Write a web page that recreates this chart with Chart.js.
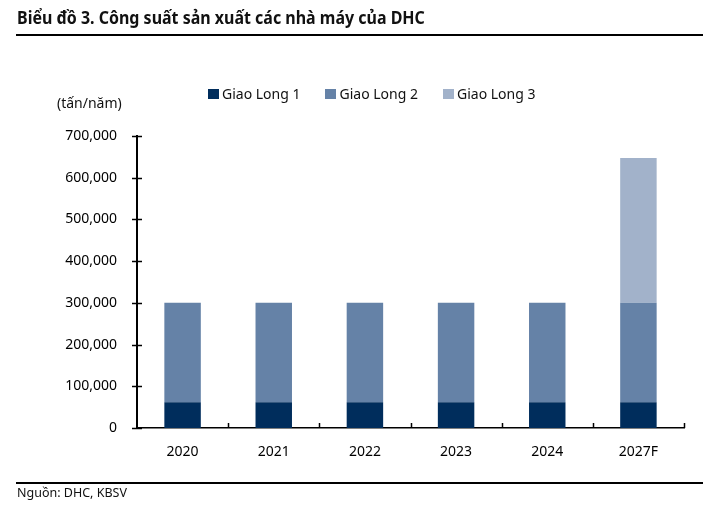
<!DOCTYPE html>
<html>
<head>
<meta charset="utf-8">
<script src="https://cdn.jsdelivr.net/npm/chart.js@4.4.1/dist/chart.umd.min.js"></script>
<style>
  body { margin: 0; background: #fff; font-family: "Noto Sans", sans-serif; }
  #wrap { position: relative; width: 725px; height: 514px; overflow: hidden; }
  #chart { position: absolute; left: 0; top: 0; }
  .title { position: absolute; left: 17px; top: 6px; font-size: 17px; font-weight: bold; color: #111; white-space: nowrap; transform-origin: 0 0; }
  .rule { position: absolute; left: 16px; width: 687px; height: 2px; background: #000; }
  .source { position: absolute; left: 17px; top: 484px; font-size: 12.5px; color: #111; white-space: nowrap; }
  .unit { position: absolute; left: 57px; top: 93px; font-size: 14px; color: #111; }
  #legend { position: absolute; left: 208px; top: 84px; display: flex; font-size: 14px; color: #111; }
  #legend .item { display: flex; align-items: center; margin-right: 25px; }
  #legend .box { width: 11px; height: 10px; margin-right: 3px; }
</style>
</head>
<body>
<div id="wrap">
  <canvas id="chart" width="725" height="514"></canvas>
  <div class="title" id="title">Biểu đồ 3. Công suất sản xuất các nhà máy của DHC</div>
  <div class="rule" style="top:34px"></div>
  <div class="unit">(tấn/năm)</div>
  <div id="legend"></div>
  <div class="rule" style="top:482px"></div>
  <div class="source">Nguồn: DHC, KBSV</div>
</div>
<script>
const years = ["2020", "2021", "2022", "2023", "2024", "2027F"];
const giaoLong1 = [62000, 62000, 62000, 62000, 62000, 62000];
const giaoLong2 = [238000, 238000, 238000, 238000, 238000, 238000];
const giaoLong3 = [0, 0, 0, 0, 0, 347000];
const yTicks = [0, 100000, 200000, 300000, 400000, 500000, 600000, 700000];

const seriesNames = ["Giao Long 1", "Giao Long 2", "Giao Long 3"];
const seriesColors = ["#002d5c", "#6582a7", "#a2b2ca"];

// squeeze title to the reference width
const t = document.getElementById("title");
t.style.transform = "scaleX(" + (408 / t.offsetWidth) + ")";

const legend = document.getElementById("legend");
seriesNames.forEach((name, i) => {
  const item = document.createElement("div");
  item.className = "item";
  item.innerHTML = '<span class="box" style="background:' + seriesColors[i] + '"></span>' + name;
  legend.appendChild(item);
});

// ticks crossing the y axis, small upward ticks at category boundaries
const axisTicks = {
  id: "axisTicks",
  afterDraw(chart) {
    const { ctx, chartArea, scales } = chart;
    ctx.save();
    ctx.strokeStyle = "#000";
    ctx.lineWidth = 1.5;
    yTicks.forEach((v) => {
      const y = Math.round(scales.y.getPixelForValue(v)) + 0.5;
      ctx.beginPath();
      ctx.moveTo(chartArea.left - 5, y);
      ctx.lineTo(chartArea.left + 5, y);
      ctx.stroke();
    });
    const step = (chartArea.right - chartArea.left) / years.length;
    for (let i = 1; i <= years.length; i++) {
      const x = Math.round(chartArea.left + step * i) + 0.5;
      ctx.beginPath();
      ctx.moveTo(x, chartArea.bottom);
      ctx.lineTo(x, chartArea.bottom - 5);
      ctx.stroke();
    }
    ctx.restore();
  }
};

new Chart(document.getElementById("chart"), {
  type: "bar",
  data: {
    labels: years,
    datasets: [
      { label: seriesNames[0], data: giaoLong1, backgroundColor: seriesColors[0] },
      { label: seriesNames[1], data: giaoLong2, backgroundColor: seriesColors[1] },
      { label: seriesNames[2], data: giaoLong3, backgroundColor: seriesColors[2] },
    ],
  },
  options: {
    responsive: false,
    animation: false,
    layout: { padding: { top: 136, right: 41, left: 0, bottom: 0 } },
    datasets: { bar: { categoryPercentage: 1, barPercentage: 0.4 } },
    plugins: { legend: { display: false }, tooltip: { enabled: false } },
    scales: {
      x: {
        stacked: true,
        grid: { display: false, drawTicks: false },
        border: { display: true, color: "#000", width: 1.5 },
        ticks: { color: "#000", font: { family: "Noto Sans", size: 14 }, padding: 16 },
        afterFit(scale) { scale.height = 86; },
      },
      y: {
        stacked: true,
        min: 0,
        max: 700000,
        grid: { display: false, drawTicks: false },
        border: { display: true, color: "#000", width: 2 },
        ticks: {
          stepSize: 100000,
          color: "#000",
          padding: 20,
          font: { family: "Noto Sans", size: 14 },
          callback: (v) => v.toLocaleString("en-US"),
        },
        afterFit(scale) { scale.width = 137; },
      },
    },
  },
  plugins: [axisTicks],
});
</script>
</body>
</html>
